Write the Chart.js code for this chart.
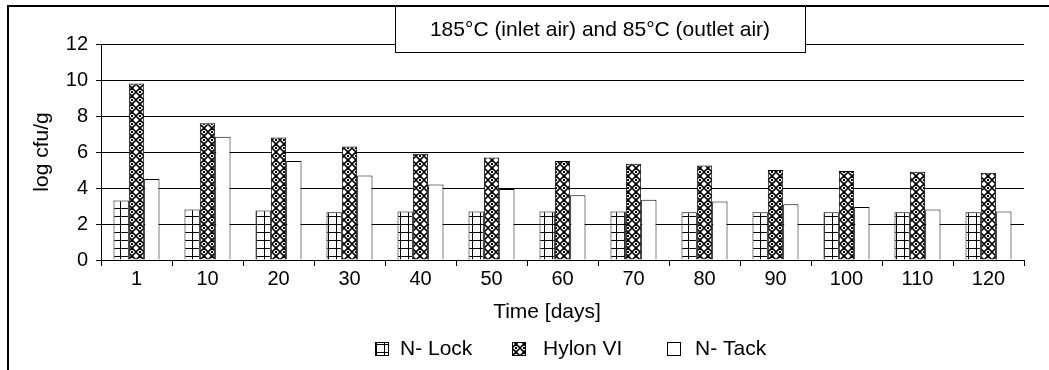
<!DOCTYPE html>
<html>
<head>
<meta charset="utf-8">
<script src="https://cdn.jsdelivr.net/npm/chart.js@4/dist/chart.umd.min.js"></script>
<style>
  html, body { margin:0; padding:0; background:#fff; }
  #wrap { position:relative; width:1049px; height:370px; }
</style>
</head>
<body>
<div id="wrap"><canvas id="c" width="1049" height="370"></canvas></div>
<script>
const days = ['1','10','20','30','40','50','60','70','80','90','100','110','120'];
const nLock = [3.3, 2.8, 2.75, 2.65, 2.7, 2.7, 2.7, 2.7, 2.65, 2.65, 2.65, 2.65, 2.65];
const hylon = [9.8, 7.6, 6.8, 6.3, 5.9, 5.7, 5.5, 5.35, 5.25, 5.0, 4.95, 4.9, 4.85];
const nTack = [4.5, 6.85, 5.5, 4.7, 4.2, 3.95, 3.6, 3.35, 3.25, 3.1, 2.95, 2.8, 2.7];
const seriesNames = ['N- Lock', 'Hylon VI', 'N- Tack'];
const titleText = '185\u00B0C (inlet air) and 85\u00B0C (outlet air)';
const xTitle = 'Time [days]';
const yTitle = 'log cfu/g';

const FONT = '"Liberation Sans", Arial, sans-serif';

// hatch fills
function tile(size, draw){
  const t = document.createElement('canvas');
  t.width = size; t.height = size;
  draw(t.getContext('2d'), size);
  return document.createElement('canvas').getContext('2d').createPattern(t, 'repeat');
}
const gridFill = tile(8, (g, s)=>{
  g.fillStyle = '#fff'; g.fillRect(0,0,s,s);
  g.fillStyle = '#000';
  g.fillRect(0,0,s,1);
  g.fillRect(0,0,1,s);
});
const crossFill = tile(8, (g, s)=>{
  g.fillStyle = '#fff'; g.fillRect(0,0,s,s);
  g.strokeStyle = '#000'; g.lineWidth = 1.7;
  g.beginPath();
  g.moveTo(0,4); g.lineTo(4,0); g.lineTo(8,4); g.lineTo(4,8); g.closePath();
  g.stroke();
  g.fillStyle = '#000'; g.fillRect(3,3,2,2);
});
const fills = [gridFill, crossFill, '#fff'];

const decor = {
  id: 'decor',
  afterDraw(chart){
    const ctx = chart.ctx;
    ctx.save();
    // frame
    ctx.fillStyle = '#000';
    ctx.fillRect(7, 5, 2, 365);
    ctx.fillRect(7, 5, 1042, 2);
    // title box
    ctx.fillStyle = '#fff';
    ctx.fillRect(395.5, 6.5, 410, 46);
    ctx.strokeStyle = '#000'; ctx.lineWidth = 1;
    ctx.strokeRect(395.5, 6.5, 410, 46);
    ctx.fillStyle = '#000';
    ctx.font = '21px ' + FONT;
    ctx.textAlign = 'center'; ctx.textBaseline = 'middle';
    ctx.fillText(titleText, 600, 30);
    // x axis title
    ctx.font = '21px ' + FONT;
    ctx.fillText(xTitle, 547, 312);
    // legend
    const lx = [375, 512, 667];
    const tx = [400, 543, 695];
    ctx.textAlign = 'left';
    seriesNames.forEach((n, i)=>{
      ctx.fillStyle = fills[i];
      ctx.fillRect(lx[i]+0.5, 342.5, 13, 13);
      ctx.strokeStyle = '#000';
      ctx.strokeRect(lx[i]+0.5, 342.5, 13, 13);
      ctx.fillStyle = '#000';
      ctx.fillText(n, tx[i], 349);
    });
    ctx.restore();
  }
};

new Chart(document.getElementById('c'), {
  type: 'bar',
  data: {
    labels: days,
    datasets: [
      { label: seriesNames[0], data: nLock, backgroundColor: gridFill, borderColor: '#000', borderWidth: 1 },
      { label: seriesNames[1], data: hylon, backgroundColor: crossFill, borderColor: '#000', borderWidth: 1 },
      { label: seriesNames[2], data: nTack, backgroundColor: '#fff', borderColor: '#000', borderWidth: 1 }
    ]
  },
  options: {
    responsive: false,
    animation: false,
    devicePixelRatio: 1,
    layout: { padding: { left: 10, right: 25, top: 44, bottom: 80 } },
    datasets: { bar: { categoryPercentage: 0.648, barPercentage: 1 } },
    plugins: { legend: { display: false }, tooltip: { enabled: false } },
    scales: {
      x: {
        grid: { drawOnChartArea: false, color: '#000', tickLength: 6, offset: true },
        border: { color: '#000', width: 1 },
        ticks: { color: '#000', font: { family: FONT, size: 20 }, padding: 1, maxRotation: 0, autoSkip: false },
        afterFit: s => { s.height = 30; }
      },
      y: {
        min: 0, max: 12,
        grid: { color: '#000', tickLength: 5 },
        border: { color: '#000', width: 1 },
        ticks: { stepSize: 2, color: '#000', font: { family: FONT, size: 20 }, padding: 8 },
        title: { display: true, text: yTitle, color: '#000', font: { family: FONT, size: 21 }, padding: { top: 20, bottom: 0 } },
        afterFit: s => { s.width = 91; }
      }
    }
  },
  plugins: [decor]
});
</script>
</body>
</html>
